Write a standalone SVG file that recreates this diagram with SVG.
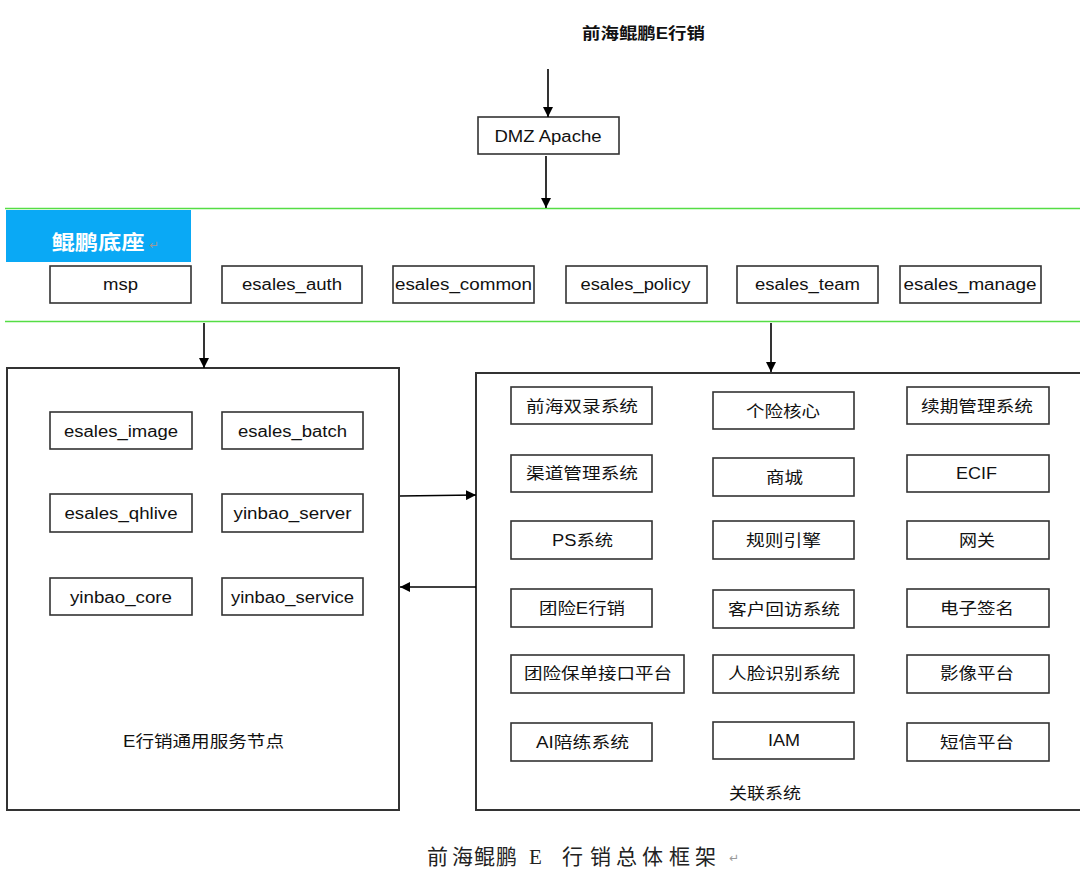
<svg xmlns="http://www.w3.org/2000/svg" width="1080" height="870" viewBox="0 0 1080 870">
<defs>
<marker id="ah" viewBox="0 0 10 10" refX="10" refY="5" markerWidth="10" markerHeight="10" markerUnits="userSpaceOnUse" orient="auto">
<path d="M0,0 L10,5 L0,10 Z" fill="#000"/>
</marker>
<style>
.t{font-family:"Liberation Sans","Noto Sans CJK SC",sans-serif;font-size:16px;fill:#111;text-anchor:middle}
.b{fill:#fff;stroke:#333;stroke-width:1.6}
.big{fill:#fff;stroke:#333;stroke-width:2}
.c{stroke:#000;stroke-width:1.6;fill:none;marker-end:url(#ah)}
.g{stroke:#55dd44;stroke-width:1.6}
.pm{font-family:"DejaVu Sans",sans-serif;font-size:12px;fill:#999}
</style>
</defs>
<rect width="1080" height="870" fill="#fff"/>

<g id="title"><text class="t" x="643.5" y="39" textLength="123" lengthAdjust="spacingAndGlyphs" style="font-weight:bold">前海鲲鹏E行销</text></g>

<g id="dmz"><rect class="b" x="478" y="117" width="141" height="37"/><text class="t" x="548" y="141.5" textLength="107" lengthAdjust="spacingAndGlyphs">DMZ Apache</text></g>

<g id="platform-lines">
<line class="g" x1="5" y1="208.5" x2="1080" y2="208.5"/>
<line class="g" x1="5" y1="321.5" x2="1080" y2="321.5"/>
</g>

<g id="platform-label">
<rect x="6" y="210" width="185" height="52" fill="#0aa9f5"/>
<text class="t" x="98" y="250" textLength="93" lengthAdjust="spacingAndGlyphs" style="fill:#fff;font-size:20px;font-weight:bold">鲲鹏底座</text>
<text class="pm" x="149" y="249">↵</text>
</g>

<g id="msp"><rect class="b" x="50" y="266" width="141" height="37"/><text class="t" x="120.5" y="290" textLength="35" lengthAdjust="spacingAndGlyphs">msp</text></g>
<g id="esales_auth"><rect class="b" x="222" y="266" width="140" height="37"/><text class="t" x="292" y="290" textLength="100" lengthAdjust="spacingAndGlyphs">esales_auth</text></g>
<g id="esales_common"><rect class="b" x="393" y="266" width="141" height="37"/><text class="t" x="463.5" y="290" textLength="137" lengthAdjust="spacingAndGlyphs">esales_common</text></g>
<g id="esales_policy"><rect class="b" x="566" y="266" width="141" height="37"/><text class="t" x="635.5" y="290" textLength="110" lengthAdjust="spacingAndGlyphs">esales_policy</text></g>
<g id="esales_team"><rect class="b" x="737" y="266" width="141" height="37"/><text class="t" x="807.5" y="290" textLength="105" lengthAdjust="spacingAndGlyphs">esales_team</text></g>
<g id="esales_manage"><rect class="b" x="900" y="266" width="141" height="37"/><text class="t" x="970" y="290" textLength="133" lengthAdjust="spacingAndGlyphs">esales_manage</text></g>

<g id="common-node">
<rect class="big" x="7" y="368" width="392" height="442"/>
<text class="t" x="203.5" y="747" textLength="161" lengthAdjust="spacingAndGlyphs">E行销通用服务节点</text>
</g>
<g id="esales_image"><rect class="b" x="50" y="412" width="142" height="37"/><text class="t" x="121" y="436.5" textLength="114" lengthAdjust="spacingAndGlyphs">esales_image</text></g>
<g id="esales_batch"><rect class="b" x="222" y="412" width="141" height="37"/><text class="t" x="292.5" y="436.5" textLength="109" lengthAdjust="spacingAndGlyphs">esales_batch</text></g>
<g id="esales_qhlive"><rect class="b" x="50" y="494" width="142" height="38"/><text class="t" x="121" y="519" textLength="113" lengthAdjust="spacingAndGlyphs">esales_qhlive</text></g>
<g id="yinbao_server"><rect class="b" x="222" y="494" width="141" height="38"/><text class="t" x="292.5" y="519" textLength="118" lengthAdjust="spacingAndGlyphs">yinbao_server</text></g>
<g id="yinbao_core"><rect class="b" x="50" y="578" width="142" height="37"/><text class="t" x="121" y="602.5" textLength="102" lengthAdjust="spacingAndGlyphs">yinbao_core</text></g>
<g id="yinbao_service"><rect class="b" x="222" y="578" width="141" height="37"/><text class="t" x="292.5" y="602.5" textLength="123" lengthAdjust="spacingAndGlyphs">yinbao_service</text></g>

<g id="related-systems">
<rect class="big" x="476" y="373" width="612" height="437"/>
<text class="t" x="765" y="799" textLength="72" lengthAdjust="spacingAndGlyphs">关联系统</text>
</g>
<g id="n1"><rect class="b" x="511" y="387" width="141" height="37"/><text class="t" x="582" y="411.5" textLength="112" lengthAdjust="spacingAndGlyphs">前海双录系统</text></g>
<g id="n2"><rect class="b" x="713" y="392" width="141" height="37"/><text class="t" x="783" y="416.5" textLength="74" lengthAdjust="spacingAndGlyphs">个险核心</text></g>
<g id="n3"><rect class="b" x="907" y="387" width="142" height="37"/><text class="t" x="977" y="411.5" textLength="112" lengthAdjust="spacingAndGlyphs">续期管理系统</text></g>
<g id="n4"><rect class="b" x="511" y="455" width="141" height="37"/><text class="t" x="582" y="479" textLength="112" lengthAdjust="spacingAndGlyphs">渠道管理系统</text></g>
<g id="n5"><rect class="b" x="713" y="458" width="141" height="38"/><text class="t" x="784.5" y="483" textLength="37" lengthAdjust="spacingAndGlyphs">商城</text></g>
<g id="n6"><rect class="b" x="907" y="455" width="142" height="37"/><text class="t" x="976.5" y="479" textLength="41" lengthAdjust="spacingAndGlyphs">ECIF</text></g>
<g id="n7"><rect class="b" x="511" y="521" width="141" height="38"/><text class="t" x="582.5" y="546" textLength="61" lengthAdjust="spacingAndGlyphs">PS系统</text></g>
<g id="n8"><rect class="b" x="713" y="521" width="141" height="38"/><text class="t" x="783.5" y="546" textLength="75" lengthAdjust="spacingAndGlyphs">规则引擎</text></g>
<g id="n9"><rect class="b" x="907" y="521" width="142" height="38"/><text class="t" x="977" y="546" textLength="36" lengthAdjust="spacingAndGlyphs">网关</text></g>
<g id="n10"><rect class="b" x="511" y="589" width="141" height="38"/><text class="t" x="582" y="614" textLength="86" lengthAdjust="spacingAndGlyphs">团险E行销</text></g>
<g id="n11"><rect class="b" x="713" y="590" width="141" height="38"/><text class="t" x="784" y="615" textLength="112" lengthAdjust="spacingAndGlyphs">客户回访系统</text></g>
<g id="n12"><rect class="b" x="907" y="589" width="142" height="38"/><text class="t" x="977" y="614" textLength="74" lengthAdjust="spacingAndGlyphs">电子签名</text></g>
<g id="n13"><rect class="b" x="511" y="655" width="173" height="38"/><text class="t" x="598" y="679" textLength="148" lengthAdjust="spacingAndGlyphs">团险保单接口平台</text></g>
<g id="n14"><rect class="b" x="713" y="655" width="141" height="38"/><text class="t" x="784" y="679" textLength="112" lengthAdjust="spacingAndGlyphs">人脸识别系统</text></g>
<g id="n15"><rect class="b" x="907" y="655" width="142" height="38"/><text class="t" x="977" y="679" textLength="74" lengthAdjust="spacingAndGlyphs">影像平台</text></g>
<g id="n16"><rect class="b" x="511" y="723" width="141" height="38"/><text class="t" x="582.5" y="748" textLength="93" lengthAdjust="spacingAndGlyphs">AI陪练系统</text></g>
<g id="n17"><rect class="b" x="713" y="722" width="141" height="37"/><text class="t" x="784" y="746" textLength="32" lengthAdjust="spacingAndGlyphs">IAM</text></g>
<g id="n18"><rect class="b" x="907" y="723" width="142" height="38"/><text class="t" x="977" y="748" textLength="74" lengthAdjust="spacingAndGlyphs">短信平台</text></g>

<g id="connectors">
<line class="c" x1="548" y1="69" x2="548" y2="117"/>
<line class="c" x1="546" y1="156" x2="546" y2="208"/>
<line class="c" x1="204" y1="323" x2="204" y2="368"/>
<line class="c" x1="771" y1="323" x2="771" y2="372"/>
<line class="c" x1="400" y1="496" x2="476" y2="495"/>
<line class="c" x1="476" y1="587" x2="400" y2="587"/>
</g>

<g id="caption"><text x="427 452 474 496 519 529 543 562 590 616 642 669 695" y="864" style="font-family:'Liberation Serif','Noto Sans CJK SC',serif;font-size:21px;fill:#222">前海鲲鹏 E 行销总体框架</text><text class="pm" x="729" y="862">↵</text></g>
</svg>
